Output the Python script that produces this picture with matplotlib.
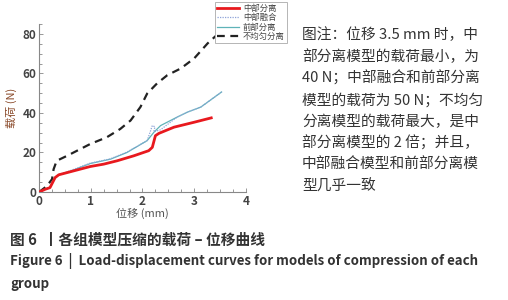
import matplotlib
matplotlib.use("Agg")
import matplotlib.pyplot as plt
from matplotlib.ticker import MultipleLocator

plt.rcParams['font.family'] = ['Noto Sans CJK SC', 'DejaVu Sans']

# Data
mid_sep_x = [0, 0.12, 0.21, 0.31, 0.38, 0.99, 1.25, 1.51, 1.83, 2.12, 2.19, 2.25, 2.32, 2.61, 3.0, 3.33]
mid_sep_y = [0, 1.4, 2.2, 7.3, 8.7, 12.9, 14.1, 15.8, 18.3, 20.9, 22.6, 28.5, 29.7, 32.8, 35.3, 37.5]

mid_fus_x = [0, 0.12, 0.21, 0.31, 0.4, 0.54, 0.99, 1.38, 1.70, 2.09, 2.15, 2.19, 2.24, 2.22, 2.35, 2.45, 2.67, 2.87, 3.13, 3.53]
mid_fus_y = [0, 1.4, 2.2, 7.3, 9.0, 10.2, 14.6, 16.8, 20.2, 26.0, 30.5, 33.6, 33.0, 30.5, 31.5, 33.5, 37.9, 40.4, 43.0, 50.6]

front_sep_x = [0, 0.12, 0.21, 0.31, 0.4, 0.54, 0.99, 1.38, 1.70, 2.09, 2.22, 2.35, 2.67, 2.87, 3.13, 3.53]
front_sep_y = [0, 1.4, 2.2, 7.3, 9.0, 9.9, 14.4, 16.6, 20.0, 26.0, 30.2, 33.6, 37.9, 40.4, 43.0, 50.6]

uneven_x = [0, 0.15, 0.25, 0.28, 0.34, 0.54, 0.99, 1.31, 1.57, 1.77, 1.96, 2.09, 2.28, 2.48, 2.74, 3.0, 3.26, 3.42]
uneven_y = [0, 3.0, 6.5, 11.5, 15.8, 18.3, 24.3, 27.7, 31.9, 36.2, 43.0, 49.8, 54.9, 59.1, 62.5, 67.6, 75.2, 79.0]

labels = ['中部分离', '中部融合', '前部分离', '不均匀分离']

note_lines = [
    '图注：位移 3.5 mm 时，中',
    '部分离模型的载荷最小，为',
    '40 N；中部融合和前部分离',
    '模型的载荷为 50 N；不均匀',
    '分离模型的载荷最大，是中',
    '部分离模型的 2 倍；并且，',
    '中部融合模型和前部分离模',
    '型几乎一致',
]
caption_cn = '图 6  丨各组模型压缩的载荷 – 位移曲线'
caption_en1 = 'Figure 6  |  Load-displacement curves for models of compression of each'
caption_en2 = 'group'

fig = plt.figure(figsize=(5.08, 3.0), dpi=100)
ax = fig.add_axes([0.077, 0.36, 0.407, 0.56])

ax.plot(front_sep_x, front_sep_y, color='#5fb3b8', lw=0.9, label=labels[2], zorder=2)
ax.plot(mid_fus_x, mid_fus_y, color='#8ea3d8', lw=0.9, ls=(0, (1, 1)), label=labels[1], zorder=3)
ax.plot(uneven_x, uneven_y, color='#222222', lw=1.6, ls=(0, (3.5, 2.5)), label=labels[3], zorder=2)
ax.plot(mid_sep_x, mid_sep_y, color='#e8191e', lw=2.0, label=labels[0], zorder=4)

ax.set_xlim(0, 4)
ax.set_ylim(0, 85)
ax.xaxis.set_major_locator(MultipleLocator(1))
ax.xaxis.set_minor_locator(MultipleLocator(0.25))
ax.yaxis.set_major_locator(MultipleLocator(20))
ax.yaxis.set_minor_locator(MultipleLocator(5))
for s in ['top', 'right']:
    ax.spines[s].set_visible(False)
for s in ['left', 'bottom']:
    ax.spines[s].set_color('#888888')
    ax.spines[s].set_linewidth(0.8)
ax.tick_params(which='both', direction='in', color='#888888', width=0.6)
ax.tick_params(which='major', length=3, labelsize=8.5, labelcolor='#444444', pad=2)
ax.tick_params(which='minor', length=2)
for t in ax.get_xticklabels() + ax.get_yticklabels():
    t.set_fontweight('bold')
ax.set_xlabel('位移 (mm)', fontsize=8, color='#555555', labelpad=0)
ax.set_ylabel('载荷 (N)', fontsize=8, color='#8a4a2a', labelpad=4)

handles, labs = ax.get_legend_handles_labels()
order = [labs.index(l) for l in labels]
leg = fig.legend([handles[i] for i in order], [labs[i] for i in order],
                 loc='upper left', bbox_to_anchor=(0.423, 0.995), fontsize=6,
                 frameon=True, fancybox=False, edgecolor='#aaaaaa', framealpha=1,
                 handlelength=2.6, handletextpad=0.5, borderpad=0.25, labelspacing=0.05,
                 borderaxespad=0)
leg.get_frame().set_linewidth(0.6)
for t in leg.get_texts():
    t.set_color('#444444')

y0 = 35
for i, line in enumerate(note_lines):
    fig.text(302 / 508, 1 - (y0 + i * 21.7) / 300, line, fontsize=10.6, color='#333333',
             va='center', ha='left')

fig.text(10 / 508, 1 - 240 / 300, caption_cn, fontsize=10.6, color='#333333', fontweight='bold',
         va='center', ha='left')
fig.text(10 / 508, 1 - 261 / 300, caption_en1, fontsize=9.6, color='#333333', fontweight='bold',
         va='center', ha='left')
fig.text(10 / 508, 1 - 284 / 300, caption_en2, fontsize=9.6, color='#333333', fontweight='bold',
         va='center', ha='left')

fig.savefig('out.png', dpi=100)
